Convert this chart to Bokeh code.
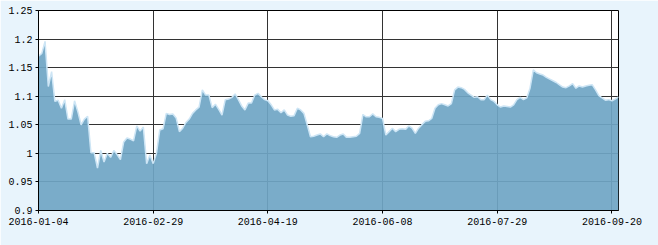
import pandas as pd
from bokeh.plotting import figure
from bokeh.models import FixedTicker, CustomJSTickFormatter, Range1d, ColumnDataSource
from bokeh.embed import file_html
from bokeh.resources import INLINE

# Trading calendar (Shanghai), 2016-01-04 .. 2016-09-22
holidays = ["2016-02-08", "2016-02-09", "2016-02-10", "2016-02-11", "2016-02-12",
            "2016-04-04", "2016-05-02", "2016-06-09", "2016-06-10",
            "2016-09-15", "2016-09-16"]
all_days = pd.bdate_range("2016-01-04", "2016-09-22")
dates = [d.strftime("%Y-%m-%d") for d in all_days if d.strftime("%Y-%m-%d") not in holidays]

values = [
    1.170, 1.175, 1.196, 1.117, 1.143, 1.091, 1.093, 1.079, 1.094, 1.060,
    1.060, 1.092, 1.073, 1.050, 1.060, 1.065, 1.001, 1.001, 0.974, 1.005,
    0.985, 1.000, 0.993, 1.005, 0.998, 0.989, 1.020, 1.027, 1.025, 1.022,
    1.048, 1.039, 1.046, 0.982, 0.997, 0.982, 1.000, 1.041, 1.043, 1.070,
    1.068, 1.069, 1.062, 1.038, 1.044, 1.054, 1.060, 1.070, 1.076, 1.081,
    1.111, 1.102, 1.102, 1.080, 1.086, 1.077, 1.067, 1.094, 1.095, 1.098,
    1.104, 1.094, 1.083, 1.076, 1.088, 1.088, 1.102, 1.105, 1.099, 1.094,
    1.092, 1.085, 1.076, 1.077, 1.071, 1.076, 1.067, 1.065, 1.066, 1.079,
    1.076, 1.070, 1.050, 1.029, 1.030, 1.032, 1.034, 1.029, 1.034, 1.031,
    1.029, 1.028, 1.032, 1.034, 1.028, 1.028, 1.029, 1.030, 1.035, 1.068,
    1.064, 1.064, 1.069, 1.064, 1.063, 1.061, 1.032, 1.038, 1.044, 1.038,
    1.042, 1.043, 1.042, 1.048, 1.044, 1.035, 1.044, 1.050, 1.056, 1.057,
    1.061, 1.079, 1.085, 1.087, 1.085, 1.083, 1.087, 1.111, 1.116, 1.115,
    1.112, 1.106, 1.102, 1.098, 1.099, 1.094, 1.094, 1.102, 1.094, 1.091,
    1.085, 1.081, 1.083, 1.082, 1.081, 1.085, 1.094, 1.098, 1.094, 1.097,
    1.114, 1.146, 1.141, 1.139, 1.137, 1.133, 1.130, 1.127, 1.124, 1.120,
    1.116, 1.115, 1.118, 1.122, 1.114, 1.118, 1.116, 1.118, 1.119, 1.120,
    1.111, 1.101, 1.097, 1.093, 1.094, 1.092, 1.095, 1.099,
]

tick_labels = ["2016-01-04", "2016-02-29", "2016-04-19", "2016-06-08", "2016-07-29", "2016-09-20"]
y_ticks = [0.9, 0.95, 1.0, 1.05, 1.1, 1.15, 1.2, 1.25]

n = min(len(dates), len(values))
xs = list(range(n))
src = ColumnDataSource(dict(x=xs, y=values[:n], base=[y_ticks[0]] * n))

p = figure(width=658, height=245, output_backend="svg", toolbar_location=None,
           x_range=Range1d(0, n - 1), y_range=Range1d(y_ticks[0], y_ticks[-1]),
           min_border_left=38, min_border_right=40, min_border_top=10, min_border_bottom=35)
p.background_fill_color = "white"
p.border_fill_color = "#e8f4fc"
p.outline_line_color = "black"
p.outline_line_width = 1

p.varea(x="x", y1="base", y2="y", source=src, fill_color="#6fa5c4", fill_alpha=0.92)
p.line(x="x", y="y", source=src, line_color="#cde5f5", line_width=1.5)

tick_pos = [dates.index(t) for t in tick_labels]
p.xaxis.ticker = FixedTicker(ticks=tick_pos)
p.xaxis.major_label_overrides = {pos: lab for pos, lab in zip(tick_pos, tick_labels)}
p.yaxis.ticker = FixedTicker(ticks=y_ticks)
p.yaxis.formatter = CustomJSTickFormatter(code="return tick.toFixed(2).replace(/0+$/,'').replace(/\\.$/,'');")

for ax in (p.xaxis[0], p.yaxis[0]):
    ax.axis_line_color = "black"
    ax.axis_line_width = 1
    ax.major_tick_line_color = "black"
    ax.major_tick_out = 3
    ax.major_tick_in = 0
    ax.minor_tick_line_color = None
    ax.major_label_text_font = "Liberation Mono"
    ax.major_label_text_font_size = "10px"
    ax.major_label_text_color = "black"
p.xaxis.major_label_standoff = 4
p.yaxis.major_label_standoff = 3

p.xgrid.ticker = FixedTicker(ticks=tick_pos)
p.ygrid.ticker = FixedTicker(ticks=y_ticks)
for g in (p.xgrid[0], p.ygrid[0]):
    g.grid_line_color = "#333333"
    g.grid_line_width = 1

open("out.html", "w").write(file_html(p, INLINE))
